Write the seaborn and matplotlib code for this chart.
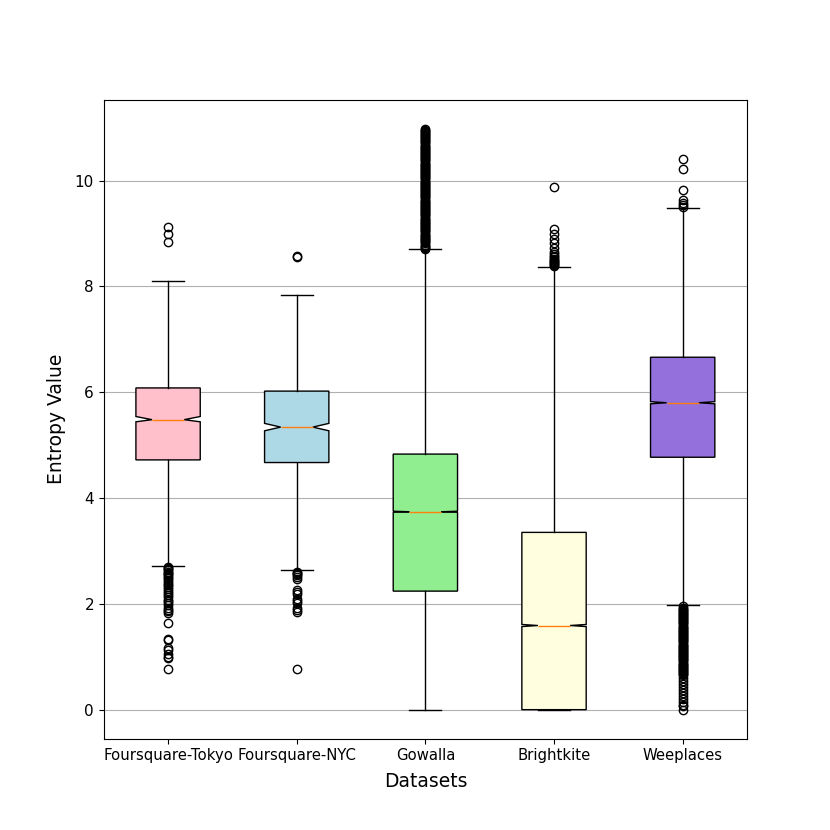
import matplotlib
matplotlib.use('agg')
import matplotlib.pyplot as plt
import seaborn as sns

datasets = ["Foursquare-Tokyo", "Foursquare-NYC", "Gowalla", "Brightkite", "Weeplaces"]
box_colors = ["pink", "lightblue", "lightgreen", "lightyellow", "mediumpurple"]

# five-number summaries
q1 = [4.72, 4.67, 2.24, 0.00, 4.77]
median = [5.48, 5.34, 3.74, 1.59, 5.80]
q3 = [6.08, 6.02, 4.83, 3.35, 6.66]
whis_lo = [2.71, 2.63, 0.00, 0.00, 1.97]
whis_hi = [8.10, 7.83, 8.70, 8.36, 9.48]
notch_lo = [5.44, 5.27, 3.73, 1.57, 5.78]
notch_hi = [5.54, 5.41, 3.75, 1.61, 5.82]

fliers_tokyo = [9.13, 8.98, 8.83,
                2.69, 2.67, 2.65, 2.63, 2.61, 2.59, 2.57, 2.54, 2.51, 2.48,
                2.45, 2.42, 2.38, 2.35, 2.31, 2.28, 2.24, 2.20, 2.16, 2.12,
                2.08, 2.05, 2.01, 1.97, 1.93, 1.89, 1.86, 1.82,
                1.64, 1.33, 1.31, 1.16, 1.12, 1.06, 1.00, 0.97, 0.77]
fliers_nyc = [8.57, 8.55,
              2.61, 2.59, 2.57, 2.54, 2.50, 2.46, 2.26, 2.22, 2.18, 2.10,
              2.06, 2.02, 1.93, 1.89, 1.85, 0.76]
fliers_gowalla = [8.71, 8.73, 8.75, 8.77, 8.79, 8.81, 8.83, 8.85, 8.87, 8.89,
                  8.91, 8.93, 8.95, 8.97, 8.99, 9.02, 9.04, 9.06, 9.08, 9.10,
                  9.12, 9.14, 9.16, 9.18, 9.20, 9.22, 9.24, 9.26, 9.28, 9.30,
                  9.32, 9.34, 9.36, 9.38, 9.40, 9.42, 9.44, 9.46, 9.48, 9.50,
                  9.52, 9.54, 9.56, 9.58, 9.60, 9.62, 9.64, 9.66, 9.68, 9.70,
                  9.72, 9.74, 9.76, 9.78, 9.80, 9.82, 9.84, 9.86, 9.88, 9.90,
                  9.92, 9.94, 9.96, 9.98, 10.00, 10.02, 10.04, 10.06, 10.08,
                  10.10, 10.12, 10.14, 10.16, 10.18, 10.20, 10.22, 10.24, 10.26,
                  10.28, 10.30, 10.32, 10.34, 10.36, 10.38, 10.40, 10.42, 10.44,
                  10.46, 10.48, 10.50, 10.52, 10.54, 10.56, 10.58, 10.60, 10.62,
                  10.64, 10.66, 10.68, 10.70, 10.72, 10.74, 10.76, 10.78, 10.80,
                  10.82, 10.84, 10.86, 10.88, 10.90, 10.92, 10.94, 10.96, 10.98]
fliers_brightkite = [9.87, 9.09, 8.99, 8.90, 8.82, 8.73, 8.65, 8.61, 8.58,
                     8.55, 8.52, 8.50, 8.48, 8.46, 8.44, 8.42, 8.40, 8.38]
fliers_weeplaces = [10.41, 10.22, 9.82, 9.64, 9.58, 9.53, 9.50,
                    1.95, 1.93, 1.91, 1.89, 1.87, 1.85, 1.83, 1.81, 1.79, 1.77,
                    1.75, 1.73, 1.71, 1.69, 1.67, 1.65, 1.63, 1.61, 1.59, 1.57,
                    1.55, 1.53, 1.51, 1.49, 1.47, 1.45, 1.43, 1.41, 1.39, 1.37,
                    1.35, 1.33, 1.31, 1.29, 1.27, 1.25, 1.23, 1.21, 1.19, 1.17,
                    1.15, 1.13, 1.11, 1.09, 1.07, 1.05, 1.03, 1.01, 0.99, 0.97,
                    0.95, 0.93, 0.91, 0.89, 0.87, 0.85, 0.83, 0.81, 0.79, 0.77,
                    0.75, 0.73, 0.71, 0.69, 0.67, 0.65, 0.60, 0.55, 0.49,
                    0.43, 0.38, 0.32, 0.26, 0.21, 0.15, 0.09, 0.06, 0.00]
fliers = [fliers_tokyo, fliers_nyc, fliers_gowalla, fliers_brightkite, fliers_weeplaces]

stats = []
for i, name in enumerate(datasets):
    stats.append({
        "label": name, "med": median[i], "q1": q1[i], "q3": q3[i],
        "whislo": whis_lo[i], "whishi": whis_hi[i],
        "cilo": notch_lo[i], "cihi": notch_hi[i], "fliers": fliers[i],
    })

palette = sns.color_palette(box_colors)

fig, ax = plt.subplots(figsize=(8.3, 8.3), dpi=100)
bp = ax.bxp(stats, shownotches=True, patch_artist=True, widths=0.5)
for patch, c in zip(bp["boxes"], palette):
    patch.set_facecolor(c)

ax.set_axisbelow(True)
ax.yaxis.grid(True, color="#b0b0b0", linewidth=0.8)
ax.set_xlabel("Datasets", fontsize=13.5, labelpad=6)
ax.set_ylabel("Entropy Value", fontsize=13.5, labelpad=6)
ax.tick_params(axis="y", labelsize=11)
ax.tick_params(axis="x", labelsize=10.7)

fig.savefig("out.png")
